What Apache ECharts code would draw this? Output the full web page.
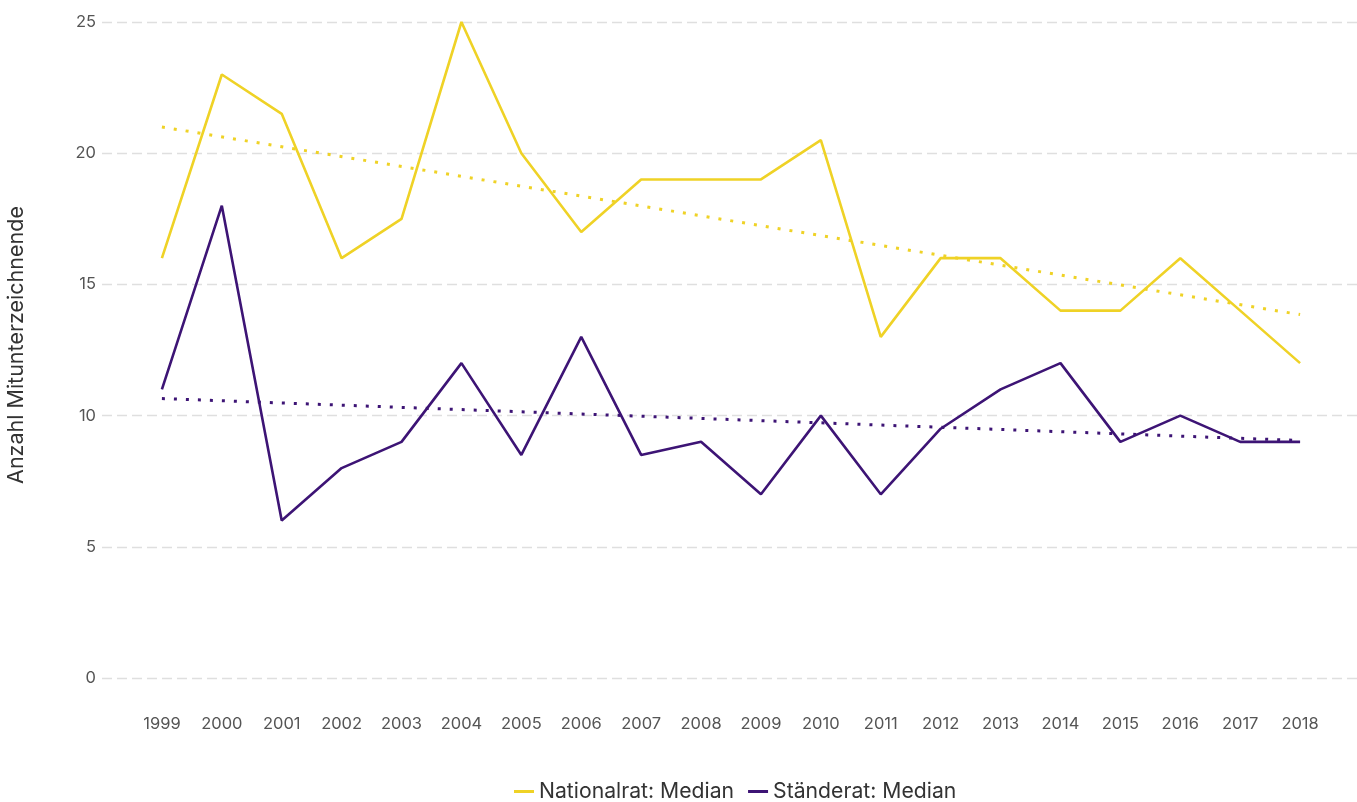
<!DOCTYPE html>
<html>
<head>
<meta charset="utf-8">
<script src="https://cdn.jsdelivr.net/npm/echarts@6/dist/echarts.min.js"></script>
<style>html,body{margin:0;padding:0;background:#fff}#c{width:1357px;height:802px}</style>
</head>
<body>
<div id="c"></div>
<script>
const years = [1999,2000,2001,2002,2003,2004,2005,2006,2007,2008,2009,2010,2011,2012,2013,2014,2015,2016,2017,2018];
const nationalrat = [16,23,21.5,16,17.5,25,20,17,19,19,19,20.5,13,16,16,14,14,16,14,12];
const staenderat = [11,18,6,8,9,12,8.5,13,8.5,9,7,10,7,9.5,11,12,9,10,9,9];
const trendYears = [1999, 2018];
const nationalratTrend = [21.0, 13.85];
const staenderatTrend = [10.65, 9.05];
const yTicks = [0,5,10,15,20,25];

const YELLOW = '#EFD226';
const PURPLE = '#3D1475';
const pair = (xs, ys) => xs.map((x,i)=>[x, ys[i]]);

const chart = echarts.init(document.getElementById('c'));
chart.setOption({
  animation: false,
  textStyle: {fontFamily: 'Inter, "Noto Sans", sans-serif'},
  grid: {left: 102, right: -3, top: 22, bottom: 124, containLabel: false, outerBoundsMode: 'none'},
  xAxis: {
    type: 'value', min: 1998, max: 2019, interval: 1,
    axisLine: {show: false}, axisTick: {show: false}, splitLine: {show: false},
    axisLabel: {
      margin: 38, fontSize: 16.5, color: '#555',
      formatter: v => (v >= years[0] && v <= years[years.length-1]) ? String(v) : ''
    }
  },
  yAxis: {
    type: 'value', min: yTicks[0], max: yTicks[yTicks.length-1], interval: 5,
    name: 'Anzahl Mitunterzeichnende', nameLocation: 'middle', nameGap: 74,
    nameTextStyle: {fontSize: 21.5, color: '#333', padding: [0, 0, 0, 10]},
    axisLine: {show: false}, axisTick: {show: false},
    axisLabel: {margin: 6, fontSize: 16.5, color: '#555'},
    splitLine: {lineStyle: {color: '#DFDFDF', width: 1.3, type: [10, 5]}}
  },
  legend: {
    bottom: -5, left: 509, itemGap: 14,
    itemWidth: 20, itemHeight: 3, icon: 'rect',
    textStyle: {fontSize: 21.2, color: '#333'},
    data: ['Nationalrat: Median', 'Ständerat: Median']
  },
  series: [
    {name: 'Nationalrat: Median', type: 'line', data: pair(years, nationalrat), showSymbol: false,
     lineStyle: {color: YELLOW, width: 2.6}, itemStyle: {color: YELLOW}, z: 3},
    {name: 'Ständerat: Median', type: 'line', data: pair(years, staenderat), showSymbol: false,
     lineStyle: {color: PURPLE, width: 2.6}, itemStyle: {color: PURPLE}, z: 3},
    {name: 'Nationalrat: Trend', type: 'line', data: pair(trendYears, nationalratTrend), showSymbol: false,
     lineStyle: {color: YELLOW, width: 3, type: [3, 9]}, z: 2},
    {name: 'Ständerat: Trend', type: 'line', data: pair(trendYears, staenderatTrend), showSymbol: false,
     lineStyle: {color: PURPLE, width: 3, type: [3, 9]}, z: 2}
  ]
});
</script>
</body>
</html>
